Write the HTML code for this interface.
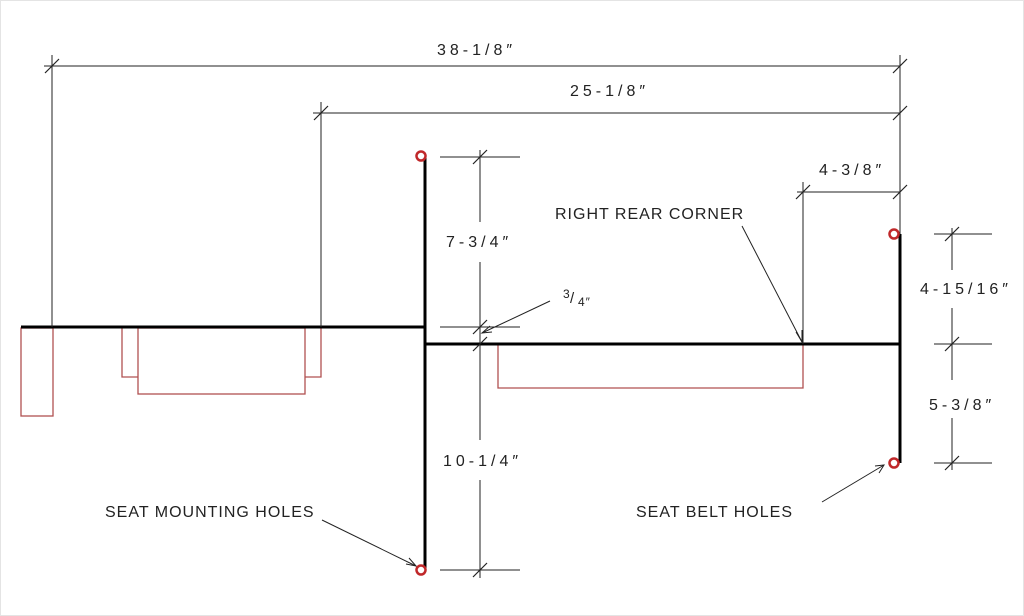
<!DOCTYPE html>
<html><head><style>
html,body{margin:0;padding:0;background:#fff;}
svg{display:block;}
text{font-family:"Liberation Sans",sans-serif;font-size:16px;fill:#222;letter-spacing:1px;}
text.d{letter-spacing:4px;}
</style></head><body>
<svg width="1024" height="616" viewBox="0 0 1024 616" xmlns="http://www.w3.org/2000/svg">
<rect x="0.5" y="0.5" width="1023" height="615" fill="none" stroke="#e4e4e4"/>
<g stroke="#b05050" stroke-width="1.3" fill="none">
<rect x="21" y="328" width="32" height="88"/>
<polyline points="122,328 122,377 138,377"/>
<rect x="138" y="328" width="167" height="66"/>
<polyline points="305,377 321,377 321,328"/>
<polyline points="498,344 498,388 803,388 803,344"/>
</g>
<g stroke="#000" stroke-width="3" fill="none">
<line x1="21" y1="327" x2="425" y2="327"/>
<line x1="425" y1="157" x2="425" y2="570"/>
<line x1="425" y1="344" x2="900" y2="344"/>
<line x1="900" y1="234" x2="900" y2="463"/>
</g>
<g stroke="#222" stroke-width="1" fill="none">
<line x1="52" y1="55" x2="52" y2="327"/>
<line x1="900" y1="55" x2="900" y2="234"/>
<line x1="44" y1="66" x2="900" y2="66"/>
<line x1="321" y1="102" x2="321" y2="327"/>
<line x1="313" y1="113" x2="900" y2="113"/>
<line x1="803" y1="182" x2="803" y2="344"/>
<line x1="797" y1="192" x2="900" y2="192"/>
<line x1="440" y1="157" x2="520" y2="157"/>
<line x1="440" y1="327" x2="520" y2="327"/>
<line x1="480" y1="150" x2="480" y2="222"/>
<line x1="480" y1="262" x2="480" y2="440"/>
<line x1="480" y1="480" x2="480" y2="578"/>
<line x1="440" y1="570" x2="520" y2="570"/>
<line x1="934" y1="234" x2="992" y2="234"/>
<line x1="934" y1="344" x2="992" y2="344"/>
<line x1="934" y1="463" x2="992" y2="463"/>
<line x1="952" y1="228" x2="952" y2="270"/>
<line x1="952" y1="308" x2="952" y2="380"/>
<line x1="952" y1="418" x2="952" y2="470"/>
<g stroke-width="1.2">
<line x1="45" y1="73" x2="59" y2="59"/>
<line x1="893" y1="73" x2="907" y2="59"/>
<line x1="314" y1="120" x2="328" y2="106"/>
<line x1="893" y1="120" x2="907" y2="106"/>
<line x1="796" y1="199" x2="810" y2="185"/>
<line x1="893" y1="199" x2="907" y2="185"/>
<line x1="473" y1="164" x2="487" y2="150"/>
<line x1="473" y1="334" x2="487" y2="320"/>
<line x1="473" y1="351" x2="487" y2="337"/>
<line x1="473" y1="577" x2="487" y2="563"/>
<line x1="945" y1="241" x2="959" y2="227"/>
<line x1="945" y1="351" x2="959" y2="337"/>
<line x1="945" y1="470" x2="959" y2="456"/>
</g>
<line x1="550" y1="301" x2="482" y2="333"/>
<polyline points="490,326 482,333 492,332"/>
<line x1="742" y1="226" x2="802" y2="342"/>
<polyline points="796,332 802,342 802,330"/>
<line x1="322" y1="520" x2="416" y2="566"/>
<polyline points="406,564 416,566 409,558"/>
<line x1="822" y1="502" x2="884" y2="465"/>
<polyline points="875,466 884,465 879,473"/>
</g>
<g fill="#fff" stroke="#c0282a" stroke-width="2.5">
<circle cx="421" cy="156" r="4.5"/>
<circle cx="421" cy="570" r="4.5"/>
<circle cx="894" cy="234" r="4.5"/>
<circle cx="894" cy="463" r="4.5"/>
</g>
<text class="d" x="437" y="55">38-1/8″</text>
<text class="d" x="570" y="96">25-1/8″</text>
<text class="d" x="819" y="175">4-3/8″</text>
<text x="555" y="219">RIGHT REAR CORNER</text>
<text class="d" x="446" y="247">7-3/4″</text>
<text x="563" y="298" style="font-size:12px">3</text>
<text x="570" y="303" style="font-size:15px">/</text>
<text x="578" y="306" style="font-size:12px">4″</text>
<text class="d" x="443" y="466">10-1/4″</text>
<text x="105" y="517">SEAT MOUNTING HOLES</text>
<text class="d" x="920" y="294">4-15/16″</text>
<text class="d" x="929" y="410">5-3/8″</text>
<text x="636" y="517">SEAT BELT HOLES</text>
</svg>
</body></html>
